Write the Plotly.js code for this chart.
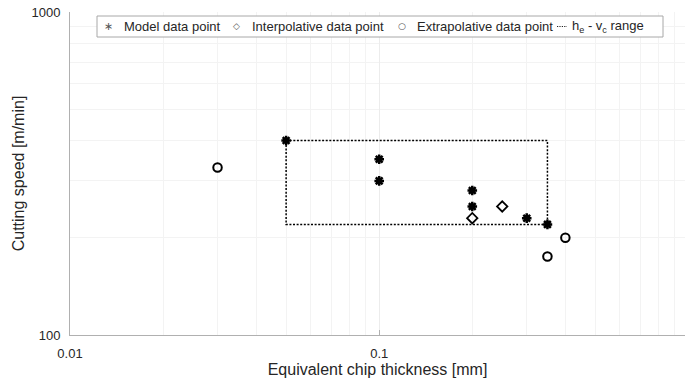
<!DOCTYPE html>
<html>
<head>
<meta charset="utf-8">
<script src="https://cdn.plot.ly/plotly-3.0.1.min.js"></script>
<style>html,body{margin:0;padding:0;background:#fff;}#chart{width:685px;height:383px;}</style>
</head>
<body>
<div id="chart"></div>
<script>
// Data (log-log axes)
const modelX = [0.05, 0.1, 0.1, 0.2, 0.2, 0.3, 0.35];
const modelY = [400, 350, 300, 280, 250, 230, 220];
const interpX = [0.2, 0.25];
const interpY = [230, 250];
const extrapX = [0.03, 0.4, 0.35];
const extrapY = [330, 200, 175];
const rangeHe = [0.05, 0.35];   // h_e range
const rangeVc = [220, 400];     // v_c range
const seriesNames = ['Model data point', 'Interpolative data point', 'Extrapolative data point', 'h<sub>e</sub> - v<sub>c</sub> range'];
const legendGlyphs = ['\u2217', '\u25C7', '\u25CB'];

const boxX = [rangeHe[0], rangeHe[1], rangeHe[1], rangeHe[0], rangeHe[0]];
const boxY = [rangeVc[1], rangeVc[1], rangeVc[0], rangeVc[0], rangeVc[1]];

const font = 'Liberation Sans, Arial, Helvetica, sans-serif';
const txt = '#262626';

const traces = [
  {x: boxX, y: boxY, mode: 'lines', name: seriesNames[3],
   line: {color: '#000', dash: '2px,1.6px', width: 1.5}, hoverinfo: 'skip'},
  {x: modelX, y: modelY, mode: 'markers', name: seriesNames[0],
   marker: {symbol: 'asterisk-open', size: 8, color: '#000', line: {color: '#000', width: 2.5}}},
  {x: interpX, y: interpY, mode: 'markers', name: seriesNames[1],
   marker: {symbol: 'diamond-open', size: 8, color: '#000', line: {color: '#000', width: 1.8}}},
  {x: extrapX, y: extrapY, mode: 'markers', name: seriesNames[2],
   marker: {symbol: 'circle-open', size: 8.5, color: '#000', line: {color: '#000', width: 2}}}
];

// Legend drawn as a framed row (plot-area pixel helpers)
const L = 70, R = 685, T = 12, B = 335;
const px = v => (v - L) / (R - L);
const py = v => (B - v) / (B - T);
const legY = py(26.5);
const textX = [122, 250, 415, 570];
const glyphX = [108, 236, 402];

const shapes = [
  {type: 'rect', xref: 'paper', yref: 'paper', x0: px(97), x1: px(663), y0: py(37), y1: py(16),
   line: {color: '#a8a8a8', width: 1}, fillcolor: '#fff', layer: 'above'},
  {type: 'line', xref: 'paper', yref: 'paper', x0: px(557), x1: px(567), y0: legY, y1: legY,
   line: {color: '#222', width: 1.2, dash: '1.2px,1.2px'}, layer: 'above'}
];
const annotations = seriesNames.map((n, i) => ({
  text: n, xref: 'paper', yref: 'paper', x: px(textX[i]), y: legY,
  xanchor: 'left', yanchor: 'middle', showarrow: false,
  font: {family: font, size: 13, color: txt}
})).concat(legendGlyphs.map((g, i) => ({
  text: g, xref: 'paper', yref: 'paper', x: px(glyphX[i]), y: legY,
  xanchor: 'center', yanchor: 'middle', showarrow: false,
  font: {family: 'DejaVu Sans, sans-serif', size: i === 0 ? 11 : 9, color: '#555'}
})));

const layout = {
  width: 685, height: 383,
  margin: {l: L, r: 685 - R, t: T, b: 383 - B},
  paper_bgcolor: '#fff', plot_bgcolor: '#fff',
  font: {family: font, size: 13, color: txt},
  showlegend: false,
  shapes: shapes,
  annotations: annotations,
  xaxis: {
    type: 'log', range: [-2, -0.011], autorange: false,
    tickvals: [0.01, 0.1, 1], ticktext: ['0.01', '0.1', '1'],
    showline: true, linecolor: '#b0b0b0', linewidth: 1, mirror: false,
    ticks: 'inside', ticklen: 5, tickcolor: '#b0b0b0',
    showgrid: true, gridcolor: '#ececec', gridwidth: 1,
    minor: {dtick: 'D1', showgrid: true, gridcolor: '#f3f3f3', ticks: ''},
    zeroline: false, ticklabelstandoff: 6,
    tickfont: {family: font, size: 13, color: txt},
    title: {text: 'Equivalent chip thickness [mm]', font: {family: font, size: 16, color: txt}, standoff: 2}
  },
  yaxis: {
    type: 'log', range: [2, 3], autorange: false,
    tickvals: [100, 1000], ticktext: ['100', '1000'],
    showline: true, linecolor: '#b0b0b0', linewidth: 1, mirror: false,
    ticks: 'inside', ticklen: 5, tickcolor: '#b0b0b0',
    showgrid: true, gridcolor: '#ececec', gridwidth: 1,
    minor: {dtick: 'D1', showgrid: true, gridcolor: '#f3f3f3', ticks: ''},
    zeroline: false, ticklabelstandoff: 6,
    tickfont: {family: font, size: 13, color: txt},
    title: {text: 'Cutting speed [m/min]', font: {family: font, size: 16, color: txt}, standoff: 2}
  }
};

Plotly.newPlot('chart', traces, layout, {displayModeBar: false, staticPlot: true});
</script>
</body>
</html>
